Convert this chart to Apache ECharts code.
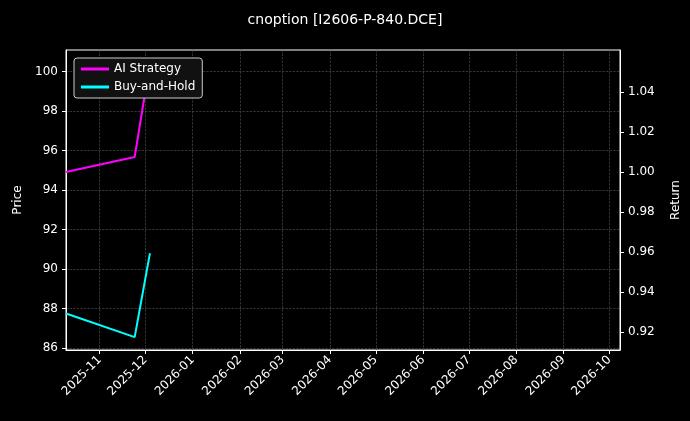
<!DOCTYPE html>
<html>
<head>
    <meta charset="utf-8">
    <title>cnoption</title>
    <script src="https://cdn.jsdelivr.net/npm/echarts@6/dist/echarts.min.js"></script>
</head>
<body style="margin:0;background:#000;">
<div id="main" style="width: 690px;height:421px;"></div>
<script type="text/javascript">
    // data
    var dates = ['2025-10-10', '2025-11-24', '2025-12-04'];
    var aiStrategy = [1.0, 1.0075, 1.0545];     // right axis (Return)
    var buyHold = [87.75, 86.55, 90.8];         // left axis (Price)
    var monthTicks = ['2025-11-01', '2025-12-01', '2026-01-01', '2026-02-01', '2026-03-01', '2026-04-01',
        '2026-05-01', '2026-06-01', '2026-07-01', '2026-08-01', '2026-09-01', '2026-10-01'];
    var priceTicks = [86, 88, 90, 92, 94, 96, 98, 100];
    var returnTicks = [0.92, 0.94, 0.96, 0.98, 1.00, 1.02, 1.04];

    function ts(s) { return new Date(s + 'T00:00:00Z').getTime(); }
    function pairs(vals) {
        var out = [];
        for (var i = 0; i < vals.length; i++) out.push([ts(dates[i]), vals[i]]);
        return out;
    }
    var tickTs = monthTicks.map(ts);
    var font = 'DejaVu Sans';

    var myChart = echarts.init(document.getElementById('main'));
    var option = {
        backgroundColor: '#000',
        textStyle: {fontFamily: font},
        title: {
            text: 'cnoption [I2606-P-840.DCE]',
            left: 'center', top: 8,
            textStyle: {color: '#fff', fontSize: 14, fontWeight: 'normal', fontFamily: font}
        },
        legend: {
            left: 74, top: 58, orient: 'vertical', itemGap: 6,
            backgroundColor: '#111', borderColor: '#ccc', borderWidth: 1, borderRadius: 3, padding: [5, 7],
            itemWidth: 28, itemHeight: 3, icon: 'rect',
            textStyle: {color: '#fff', fontSize: 12, fontFamily: font},
            data: ['AI Strategy', 'Buy-and-Hold']
        },
        grid: {left: 66, right: 70, top: 50, bottom: 71, show: true, borderColor: '#fff', borderWidth: 1, backgroundColor: '#000'},
        xAxis: {
            type: 'value', min: ts('2025-10-10'), max: ts('2026-10-08'),
            axisLine: {lineStyle: {color: '#fff'}},
            axisTick: {customValues: tickTs, lineStyle: {color: '#fff'}, length: 4},
            axisLabel: {
                customValues: tickTs, rotate: 45, color: '#fff', fontSize: 12, fontFamily: font,
                formatter: function (v) {
                    var d = new Date(v);
                    var m = d.getUTCMonth() + 1;
                    return d.getUTCFullYear() + '-' + (m < 10 ? '0' + m : m);
                }
            },
            splitLine: {show: true, lineStyle: {color: '#555', type: 'dashed', width: 0.6}}
        },
        yAxis: [{
            type: 'value', min: 85.9, max: 101.1, name: 'Price', nameLocation: 'middle', nameGap: 38,
            nameTextStyle: {color: '#fff', fontSize: 12},
            axisLine: {show: true, lineStyle: {color: '#fff'}},
            axisTick: {show: true, customValues: priceTicks, lineStyle: {color: '#fff'}, length: 4},
            axisLabel: {customValues: priceTicks, color: '#fff', fontSize: 12, fontFamily: font},
            splitLine: {show: true, lineStyle: {color: '#555', type: 'dashed', width: 0.6}}
        }, {
            type: 'value', min: 0.911, max: 1.061, name: 'Return', nameLocation: 'middle', nameGap: 50,
            nameRotate: 90,
            nameTextStyle: {color: '#fff', fontSize: 12},
            axisLine: {show: true, lineStyle: {color: '#fff'}},
            axisTick: {show: true, customValues: returnTicks, lineStyle: {color: '#fff'}, length: 4},
            axisLabel: {customValues: returnTicks, color: '#fff', fontSize: 12, fontFamily: font,
                formatter: function (v) { return v.toFixed(2); }},
            splitLine: {show: false}
        }],
        series: [{
            name: 'AI Strategy', type: 'line', yAxisIndex: 1, data: pairs(aiStrategy),
            showSymbol: false, color: '#ff00ff', lineStyle: {width: 2, color: '#ff00ff'}
        }, {
            name: 'Buy-and-Hold', type: 'line', yAxisIndex: 0, data: pairs(buyHold),
            showSymbol: false, color: '#00ffff', lineStyle: {width: 2, color: '#00ffff'}
        }]
    };
    myChart.setOption(option);
</script>
</body>
</html>
